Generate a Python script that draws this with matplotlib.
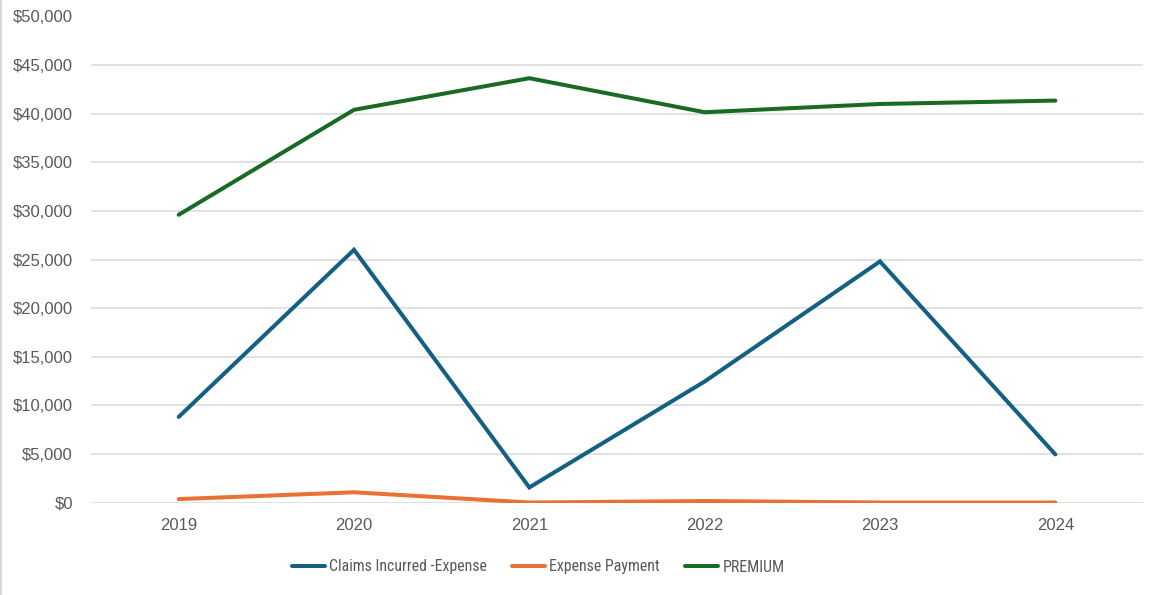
import matplotlib
matplotlib.use("Agg")
import matplotlib.pyplot as plt
from matplotlib.lines import Line2D
from matplotlib.ticker import FuncFormatter, MultipleLocator

years = ["2019", "2020", "2021", "2022", "2023", "2024"]
claims = [8800, 26000, 1550, 12450, 24800, 4950]
expense = [350, 1050, 0, 150, 0, 0]
premium = [29600, 40400, 43650, 40150, 41000, 41350]

series_names = ["Claims Incurred -Expense", "Expense Payment", "PREMIUM"]
colors = ["#156082", "#E97132", "#196B24"]

plt.rcParams['font.family'] = ['Liberation Sans', 'DejaVu Sans']

fig = plt.figure(figsize=(11.5, 5.95), dpi=100)
ax = fig.add_axes([91/1150, 1-502.5/595, (1143-91)/1150, (502.5-16.5)/595])

x = list(range(len(years)))
for vals, name, c in zip([claims, expense, premium], series_names, colors):
    ax.plot(x, vals, color=c, lw=2.9, label=name, solid_capstyle='round',
            solid_joinstyle='miter', zorder=3)

ax.set_xlim(-0.5, len(years) - 0.5)
ax.set_ylim(0, 50000)
ax.yaxis.set_major_locator(MultipleLocator(5000))
ax.yaxis.set_major_formatter(FuncFormatter(lambda v, p: f"${v:,.0f}"))
ax.set_xticks(x)
ax.set_xticklabels(years)
ax.grid(axis='y', color='#d9d9d9', lw=1.1, zorder=0)
ax.set_axisbelow(True)
for s in ax.spines.values():
    s.set_visible(False)
ax.tick_params(axis='both', length=0, colors='#595959', labelsize=12)
ax.tick_params(axis='y', pad=13)
ax.tick_params(axis='x', pad=11)

prop = {'family': ['Roboto Condensed', 'Liberation Sans Narrow', 'DejaVu Sans'],
        'size': 11.4}
leg = fig.legend(loc='center', bbox_to_anchor=(538/1150, 1-567/595), ncol=3,
                 frameon=False, handlelength=2.1, handletextpad=0.25,
                 columnspacing=1.6, prop=prop)
for t in leg.get_texts():
    t.set_color('#595959')

fig.add_artist(Line2D([0.5/1150, 0.5/1150], [0, 1], color='#d9d9d9', lw=1.5,
                      transform=fig.transFigure))

fig.savefig("out.png", dpi=100, facecolor='white')
